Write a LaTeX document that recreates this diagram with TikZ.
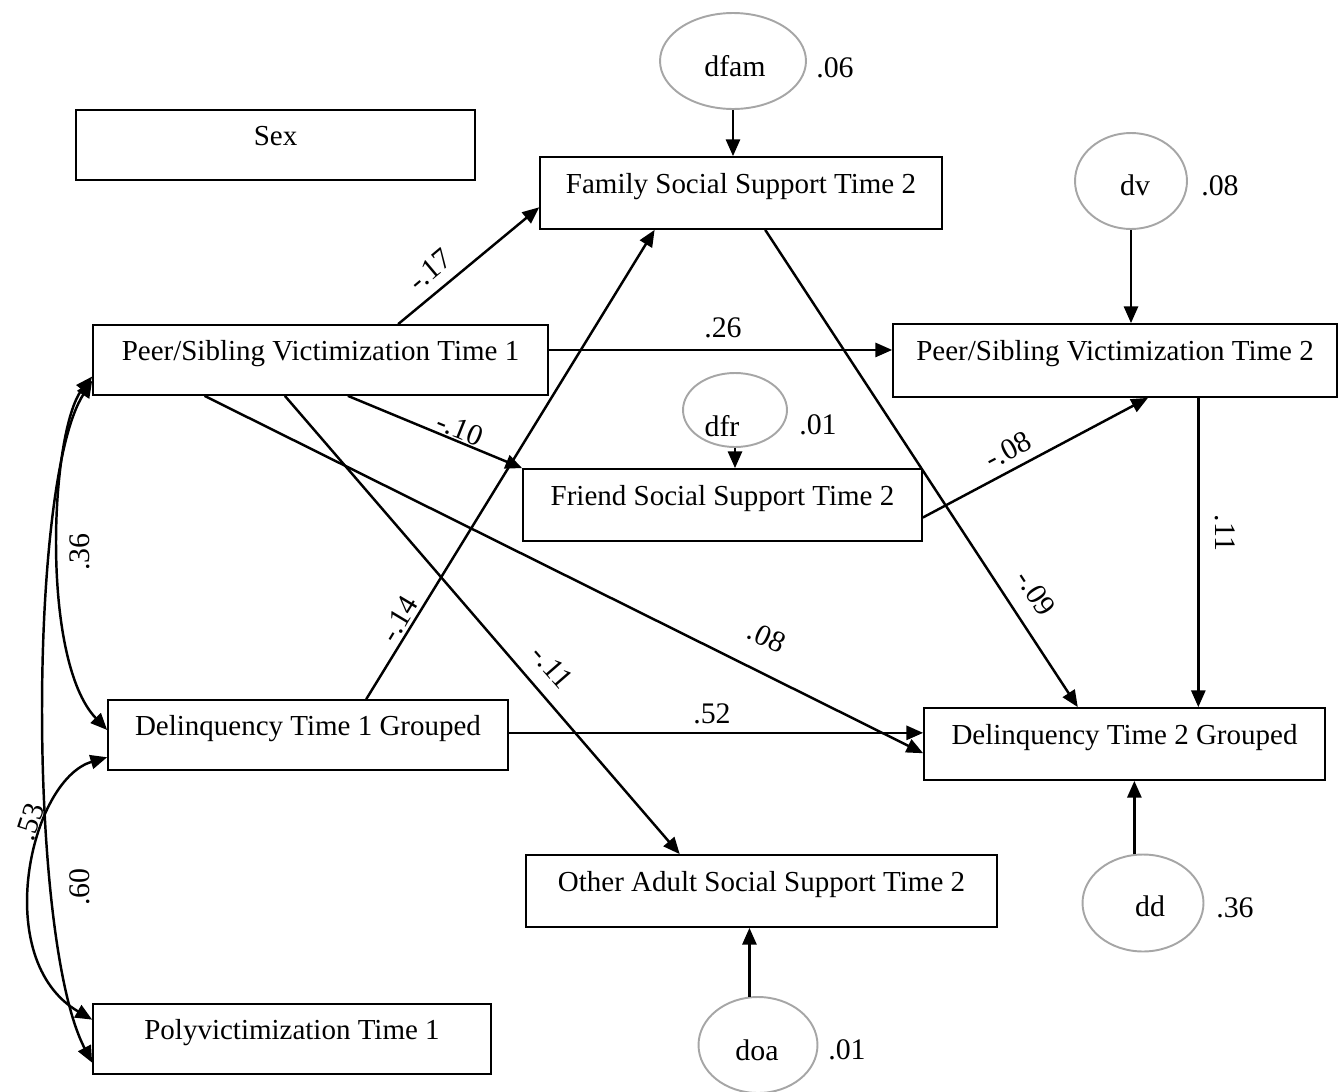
\documentclass[tikz,border=0pt]{standalone}
\usepackage{fontspec}
\setmainfont{Liberation Serif}
\usetikzlibrary{arrows.meta,shapes.geometric,calc}

\begin{document}
\begin{tikzpicture}[x=0.02cm,y=-0.02cm,
  var/.style={draw, line width=1pt, rectangle, inner sep=0pt,
    text height=12pt, text depth=12pt, font=\fontsize{16.5}{20}\selectfont},
  err/.style={draw=black!35, line width=1.1pt, ellipse, inner sep=0pt},
  etxt/.style={font=\fontsize{17}{20}\selectfont, inner sep=0pt},
  lab/.style={font=\fontsize{17}{20}\selectfont, inner sep=1pt},
  arr/.style={line width=1.4pt, -{Triangle[length=9.5pt,width=8pt]}},
  cov/.style={line width=1.4pt, {Triangle[length=9.5pt,width=8pt]}-{Triangle[length=9.5pt,width=8pt]}},
]
\useasboundingbox (0,0) rectangle (1339,1092);

% observed variables
\node[var, minimum width=7.98cm, minimum height=1.4cm]  (sex)  at (275.5,145) {Sex};
\node[var, minimum width=8.04cm, minimum height=1.44cm] (fam)  at (741,193)   {Family Social Support Time 2};
\node[var, minimum width=9.1cm,  minimum height=1.4cm]  (pv1)  at (320.5,360) {Peer/Sibling Victimization Time 1};
\node[var, minimum width=8.88cm, minimum height=1.46cm] (pv2)  at (1115,360.5){Peer/Sibling Victimization Time 2};
\node[var, minimum width=7.98cm, minimum height=1.44cm] (fr)   at (722.5,505) {Friend Social Support Time 2};
\node[var, minimum width=8.0cm,  minimum height=1.4cm]  (d1)   at (308,735)   {Delinquency Time 1 Grouped};
\node[var, minimum width=8.02cm, minimum height=1.44cm] (d2)   at (1124.5,744){Delinquency Time 2 Grouped};
\node[var, minimum width=9.42cm, minimum height=1.44cm] (oa)   at (761.5,891) {Other Adult Social Support Time 2};
\node[var, minimum width=7.96cm, minimum height=1.4cm]  (poly) at (292,1039)  {Polyvictimization Time 1};

% disturbances
\node[err, minimum width=2.92cm, minimum height=1.92cm] (dfam) at (733,61) {};
\node[etxt] (dfamT) at (735,66) {dfam};
\node[lab]  (dfamR) at (835,68) {.06};

\node[err, minimum width=2.24cm, minimum height=1.92cm] (dv) at (1131,181) {};
\node[etxt] (dvT) at (1135,185) {dv};
\node[lab]  (dvR) at (1220,186) {.08};

\node[err, minimum width=2.08cm, minimum height=1.48cm] (dfr) at (735,410) {};
\node[etxt] (dfrT) at (722,426) {dfr};
\node[lab]  (dfrR) at (818,425) {.01};

\node[err, minimum width=2.42cm, minimum height=1.94cm] (dd) at (1143,903) {};
\node[etxt] (ddT) at (1150,906) {dd};
\node[lab]  (ddR) at (1235,908) {.36};

\node[err, minimum width=2.38cm, minimum height=1.92cm] (doa) at (758,1045) {};
\node[etxt] (doaT) at (757,1050) {doa};
\node[lab]  (doaR) at (847,1050) {.01};

% disturbance paths
\draw[arr] (dfam.south) -- (dfam.south |- fam.north);
\draw[arr] (dv.south) -- (dv.south |- pv2.north);
\draw[arr] (dfr.south) -- (dfr.south |- fr.north);
\draw[arr] (dd.100) -- (dd.100 |- d2.south);
\draw[arr] (doa.100) -- (doa.100 |- oa.south);

% structural paths
\draw[arr] ($(pv1.north west)!0.670!(pv1.north east)$) -- ($(fam.north west)!0.694!(fam.south west)$);
\node[lab, rotate=40] (l17) at (430,270) {-.17};

\coordinate (pv1e) at ($(pv1.north east)!0.36!(pv1.south east)$);
\draw[arr] (pv1e) -- (pv1e -| pv2.west);
\node[lab] (l26) at (723,328) {.26};

\draw[arr] ($(pv1.south west)!0.56!(pv1.south east)$) -- (fr.north west);
\node[lab, rotate=-22] (l10) at (460,429) {-.10};

\draw[arr] ($(pv1.south west)!0.246!(pv1.south east)$) -- ($(d2.north west)!0.625!(d2.south west)$);
\node[lab, rotate=-25] (l08b) at (767,637) {.08};

\draw[arr] ($(pv1.south west)!0.422!(pv1.south east)$) -- ($(oa.north west)!0.327!(oa.north east)$);
\node[lab, rotate=-49] (l11b) at (552,667) {-.11};

\draw[arr] ($(d1.north west)!0.645!(d1.north east)$) -- ($(fam.south west)!0.286!(fam.south east)$);
\node[lab, rotate=59] (l14) at (399,619) {-.14};

\coordinate (d1e) at ($(d1.north east)!0.47!(d1.south east)$);
\draw[arr] (d1e) -- (d1e -| d2.west);
\node[lab] (l52) at (712,714) {.52};

\draw[arr] ($(fr.north east)!0.67!(fr.south east)$) -- ($(pv2.south west)!0.574!(pv2.south east)$);
\node[lab, rotate=28] (l08a) at (1008,450) {-.08};

\draw[arr] ($(fam.south west)!0.56!(fam.south east)$) -- ($(d2.north west)!0.384!(d2.north east)$);
\node[lab, rotate=-57] (l09) at (1036,593) {-.09};

\coordinate (pv2s) at ($(pv2.south west)!0.687!(pv2.south east)$);
\draw[arr] (pv2s) -- (pv2s |- d2.north);
\node[lab, rotate=-90] (l11a) at (1225,533) {.11};

% correlations among exogenous variables
\draw[cov] ($(pv1.north west)!0.73!(pv1.south west)$) .. controls (50,430) and (40,660) .. ($(d1.north west)!0.43!(d1.south west)$);
\node[lab, rotate=90] (l36) at (80,552) {.36};

\draw[cov] ($(pv1.north west)!0.79!(pv1.south west)$) .. controls (28,480) and (28,940) .. ($(poly.north west)!0.83!(poly.south west)$);
\node[lab, rotate=90] (l60) at (80,887) {.60};

\draw[cov] ($(d1.north west)!0.81!(d1.south west)$) .. controls (30,780) and (-10,960) .. ($(poly.north west)!0.23!(poly.south west)$);
\node[lab, rotate=72] (l53) at (30,822) {.53};

\end{tikzpicture}
\end{document}
